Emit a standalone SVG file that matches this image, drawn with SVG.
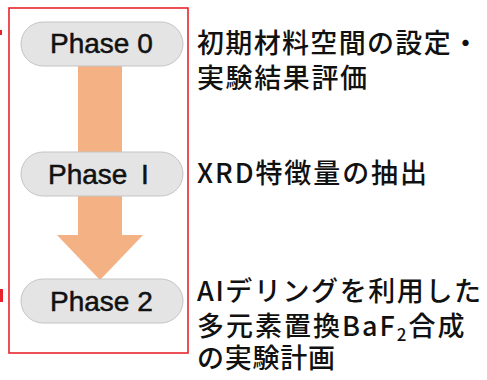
<svg xmlns="http://www.w3.org/2000/svg" width="487" height="380" viewBox="0 0 487 380">
<style>
.pill{fill:#e4e4e4;stroke:#c4c4c4;stroke-width:1}
.ph{font-family:"Liberation Sans",Arial,sans-serif;font-size:28px;fill:#111;stroke:#111;stroke-width:0.5}
.jp{font-family:"Noto Sans CJK JP","Liberation Sans",sans-serif;font-size:27px;font-weight:500;fill:#111}
.frame{fill:none;stroke:#e8232b;stroke-width:1.6}
</style>
<rect width="487" height="380" fill="#ffffff"/>
<rect x="0" y="30" width="2" height="5" fill="#e8232b"/>
<rect x="0" y="289" width="3" height="13" fill="#e8232b"/>
<rect class="frame" x="9" y="8" width="179" height="345"/>
<g id="connectors">
<rect x="78" y="60" width="44" height="176" fill="#f4b183"/>
<polygon points="57,235 143,235 100,280" fill="#f4b183"/>
</g>
<g id="phase0">
<rect class="pill" x="21" y="22" width="162" height="44" rx="22"/>
<text class="ph" x="50" y="53">Phase 0</text>
</g>
<g id="phase1">
<rect class="pill" x="21" y="152" width="162" height="44" rx="22"/>
<text class="ph" x="48" y="184">Phase<tspan x="141">I</tspan></text>
</g>
<g id="phase2">
<rect class="pill" x="21" y="279" width="162" height="44" rx="22"/>
<text class="ph" x="50" y="311">Phase 2</text>
</g>
<g id="label0">
<text class="jp" x="197" y="53" textLength="282" lengthAdjust="spacing">初期材料空間の設定・</text>
<text class="jp" x="197" y="88" textLength="170" lengthAdjust="spacing">実験結果評価</text>
</g>
<g id="label1">
<text class="jp" x="197" y="183" textLength="230" lengthAdjust="spacing">XRD特徴量の抽出</text>
</g>
<g id="label2">
<text class="jp" x="197" y="301" textLength="284" lengthAdjust="spacing">AIデリングを利用した</text>
<text class="jp" x="197" y="336" letter-spacing="2">多元素置換BaF<tspan font-size="17" dy="5">2</tspan><tspan dy="-5">合成</tspan></text>
<text class="jp" x="197" y="368" textLength="138" lengthAdjust="spacing">の実験計画</text>
</g>
</svg>
